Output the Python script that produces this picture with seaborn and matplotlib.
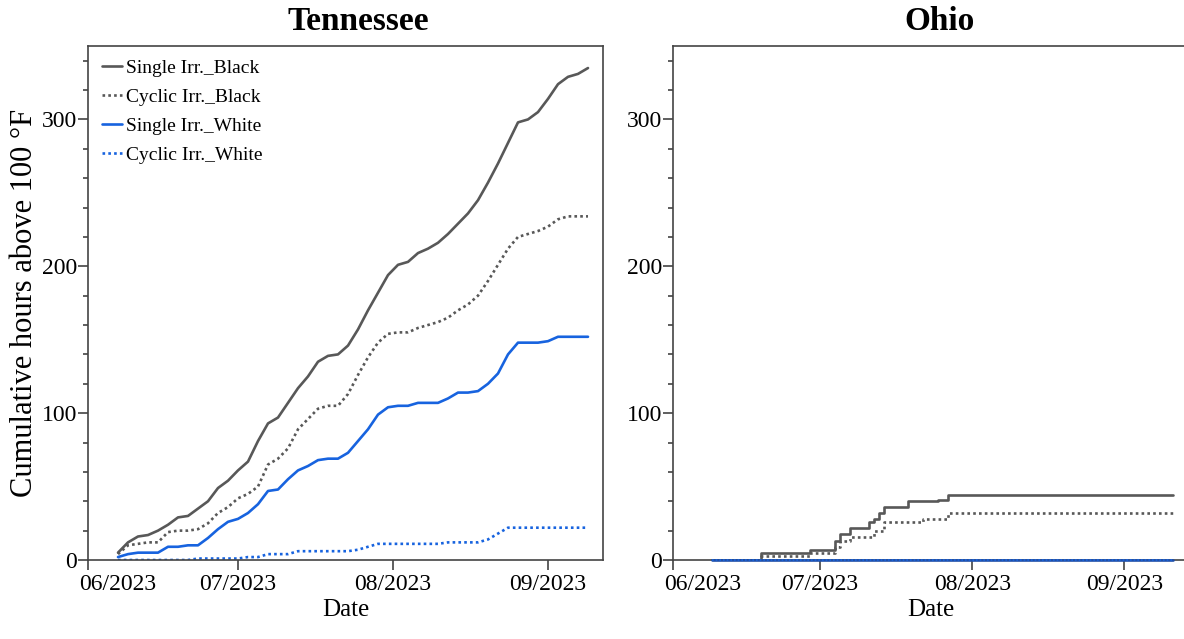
import pandas as pd
import matplotlib.pyplot as plt
import matplotlib.transforms as mtransforms
from matplotlib.ticker import MultipleLocator
import seaborn as sns

sns.set_theme(style='ticks')
plt.rcParams['font.family'] = ['Liberation Serif', 'DejaVu Serif']
plt.rcParams['text.color'] = 'black'
plt.rcParams['axes.labelcolor'] = 'black'
plt.rcParams['xtick.labelcolor'] = 'black'
plt.rcParams['ytick.labelcolor'] = 'black'

# Tennessee - readings every second day
tn_dates = pd.date_range('2023-06-07', '2023-09-09', freq='2D')
tn_single_black = [5, 12, 16, 17, 20, 24, 29, 30, 35, 40, 49, 54, 61, 67, 81, 93,
                   97, 107, 117, 125, 135, 139, 140, 146, 157, 170, 182, 194, 201, 203,
                   209, 212, 216, 222, 229, 236, 245, 257, 270, 284, 298, 300, 305, 314,
                   324, 329, 331, 335]
tn_cyclic_black = [4, 10, 11, 12, 12, 19, 20, 20, 21, 25, 32, 36, 42, 45, 50, 65,
                   69, 76, 89, 96, 103, 105, 105, 113, 126, 138, 148, 154, 155, 155,
                   158, 160, 162, 165, 170, 174, 180, 190, 201, 212, 220, 222, 224, 227,
                   232, 234, 234, 234]
tn_single_white = [2, 4, 5, 5, 5, 9, 9, 10, 10, 15, 21, 26, 28, 32, 38, 47,
                   48, 55, 61, 64, 68, 69, 69, 73, 81, 89, 99, 104, 105, 105,
                   107, 107, 107, 110, 114, 114, 115, 120, 127, 140, 148, 148, 148, 149,
                   152, 152, 152, 152]
tn_cyclic_white = [0, 0, 0, 0, 0, 0, 0, 0, 1, 1, 1, 1, 1, 2, 2, 4,
                   4, 4, 6, 6, 6, 6, 6, 6, 7, 9, 11, 11, 11, 11,
                   11, 11, 11, 12, 12, 12, 12, 14, 18, 22, 22, 22, 22, 22,
                   22, 22, 22, 22]

# Ohio - step changes only
oh_black_dates = pd.to_datetime(['2023-06-09', '2023-06-19', '2023-06-29', '2023-07-04',
                                 '2023-07-05', '2023-07-07', '2023-07-11', '2023-07-12',
                                 '2023-07-13', '2023-07-14', '2023-07-19', '2023-07-25',
                                 '2023-07-27', '2023-09-11'])
oh_single_black = [0, 5, 7, 13, 18, 22, 26, 28, 32, 36, 40, 41, 44, 44]
oh_cyclic_dates = pd.to_datetime(['2023-06-09', '2023-06-19', '2023-06-29', '2023-07-04',
                                  '2023-07-05', '2023-07-07', '2023-07-12', '2023-07-14',
                                  '2023-07-22', '2023-07-27', '2023-09-11'])
oh_cyclic_black = [0, 3, 5, 9, 13, 16, 20, 26, 28, 32, 32]
oh_white_dates = pd.to_datetime(['2023-06-09', '2023-09-11'])
oh_single_white = [0, 0]
oh_cyclic_white = [0, 0]

month_ticks = pd.to_datetime(['2023-06-01', '2023-07-01', '2023-08-01', '2023-09-01'])
month_labels = ['06/2023', '07/2023', '08/2023', '09/2023']

gray = '#585858'
blue = '#1763df'
dot = (0, (1, 1.2))

fig = plt.figure(figsize=(11.84, 6.39), dpi=100)
ax1 = fig.add_axes([88 / 1184, 79 / 639, 515 / 1184, 514 / 639])
ax2 = fig.add_axes([673 / 1184, 79 / 639, 515 / 1184, 514 / 639])

sns.lineplot(x=tn_dates, y=tn_single_black, ax=ax1, color=gray, lw=1.9, label='Single Irr._Black')
sns.lineplot(x=tn_dates, y=tn_cyclic_black, ax=ax1, color=gray, lw=1.9, linestyle=dot, label='Cyclic Irr._Black')
sns.lineplot(x=tn_dates, y=tn_single_white, ax=ax1, color=blue, lw=1.9, label='Single Irr._White')
sns.lineplot(x=tn_dates, y=tn_cyclic_white, ax=ax1, color=blue, lw=1.9, linestyle=dot, label='Cyclic Irr._White')

sns.lineplot(x=oh_black_dates, y=oh_single_black, ax=ax2, color=gray, lw=1.9, drawstyle='steps-post')
sns.lineplot(x=oh_cyclic_dates, y=oh_cyclic_black, ax=ax2, color=gray, lw=1.9, linestyle=dot, drawstyle='steps-post')
sns.lineplot(x=oh_white_dates, y=oh_single_white, ax=ax2, color='#1f4fa8', lw=1.9,
             clip_on=False, zorder=5)
sns.lineplot(x=oh_white_dates, y=oh_cyclic_white, ax=ax2, color=blue, lw=1.2, linestyle=dot,
             clip_on=False, zorder=6)

ax1.set_xlim(pd.Timestamp('2023-06-01'), pd.Timestamp('2023-09-12'))
ax2.set_xlim(pd.Timestamp('2023-06-01'), pd.Timestamp('2023-09-14'))

for ax in (ax1, ax2):
    ax.set_ylim(0, 350)
    ax.yaxis.set_major_locator(MultipleLocator(100))
    ax.yaxis.set_minor_locator(MultipleLocator(20))
    ax.set_xticks(month_ticks)
    ax.set_xticklabels(month_labels)
    ax.tick_params(which='major', direction='out', length=7, width=1.1, labelsize=17,
                   color='#333333', pad=3)
    ax.tick_params(axis='y', which='major', pad=1)
    ax.tick_params(which='minor', direction='out', length=3.5, width=1.1, color='#333333')
    for sp in ax.spines.values():
        sp.set_linewidth(1.2)
        sp.set_color('#444444')
    ax.set_xlabel('Date', fontsize=18, labelpad=3)
    ax.set_ylabel('')
    # first month label sits a little to the right of its tick
    lbl = ax.xaxis.get_major_ticks()[0].label1
    lbl.set_transform(lbl.get_transform() + mtransforms.ScaledTranslation(0.30, 0, fig.dpi_scale_trans))

ax1.set_ylabel('Cumulative hours above 100 °F', fontsize=22)
ax1.yaxis.set_label_coords(-0.095, 0.5)

ax1.legend(loc='upper left', frameon=False, fontsize=14, handlelength=1.05,
           handletextpad=0.2, labelspacing=0.58, borderaxespad=0.4, borderpad=0.3)

fig.text(358 / 1184, 1 - 22 / 639, 'Tennessee', ha='center', va='center',
         fontsize=24, fontweight='bold')
fig.text(939 / 1184, 1 - 22 / 639, 'Ohio', ha='center', va='center',
         fontsize=24, fontweight='bold')

fig.savefig('out.png', dpi=100)
